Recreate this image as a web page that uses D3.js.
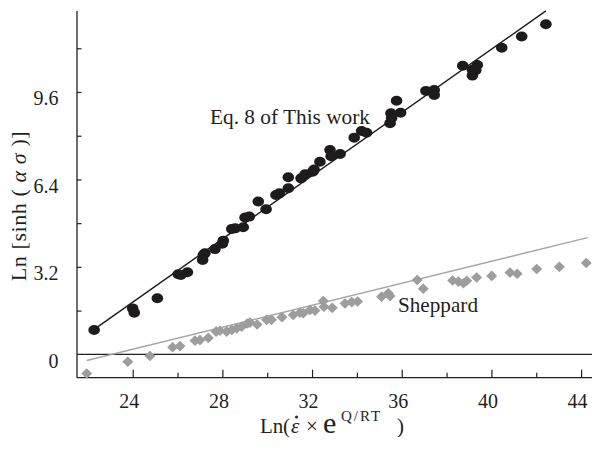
<!DOCTYPE html>
<html><head><meta charset="utf-8">
<script src="https://cdn.jsdelivr.net/npm/d3@7"></script>
<style>
html,body{margin:0;padding:0;background:#fff;}
svg{display:block;}
text{font-family:"Liberation Serif","Times New Roman",serif;fill:#231f20;}
</style></head>
<body>
<svg id="chart" width="592" height="449"></svg>
<script>
// ---- data ----
const thisWorkX = [22.28,24.00,24.07,25.10,26.03,26.15,26.44,27.12,27.15,27.22,27.67,28.00,28.04,28.42,28.57,28.93,29.01,29.20,29.60,29.95,30.39,30.54,30.94,30.94,31.51,31.69,32.03,32.09,32.35,32.80,32.85,33.25,33.88,34.21,34.43,35.48,35.52,35.55,35.95,35.77,37.08,37.45,37.45,38.72,39.15,39.15,39.37,39.30,40.46,41.35,42.43];
const thisWorkY = [0.89,1.68,1.52,2.05,2.93,2.90,3.00,3.45,3.63,3.70,3.85,4.05,4.16,4.59,4.61,4.65,5.01,5.04,5.59,5.31,5.83,5.89,6.08,6.48,6.44,6.59,6.68,6.76,7.05,7.48,7.25,7.33,7.93,8.17,8.11,8.46,8.82,8.65,8.84,9.28,9.64,9.67,9.49,10.56,10.41,10.20,10.59,10.40,11.22,11.63,12.08];
const sheppardX = [21.95,23.78,24.77,25.78,26.11,26.78,27.00,27.37,27.72,27.89,28.19,28.42,28.64,28.86,29.11,29.23,29.55,29.97,30.19,30.66,31.16,31.46,31.61,31.91,32.13,32.50,32.53,32.90,33.47,33.77,34.03,35.10,35.40,35.48,36.69,36.96,38.27,38.53,38.75,38.90,39.34,40.01,40.83,41.15,42.02,43.03,44.23];
const sheppardY = [-0.70,-0.27,-0.06,0.26,0.30,0.50,0.52,0.60,0.83,0.86,0.83,0.89,0.95,1.01,1.13,1.16,1.09,1.26,1.26,1.36,1.44,1.52,1.50,1.62,1.60,1.95,1.74,1.70,1.86,1.91,1.93,2.11,2.23,2.13,2.72,2.40,2.70,2.66,2.60,2.69,2.81,2.87,2.99,2.95,3.12,3.20,3.34];
const thisWorkLine = [[22.28,0.91],[42.43,12.57]];
const sheppardLine = [[21.95,-0.23],[44.29,4.27]];
const xMajorTicks = [24,28,32,36,40,44];
const xMinorTicks = [22,26,30,34,38,42];
const yMajorTicks = [3.2,6.4,9.6];
const yMinorTicks = [1.6,4.8,8.0,11.2];
const yZeroLabel = [0];
const labelThisWork = "Eq. 8 of This work";
const labelSheppard = "Sheppard";

// ---- scales ----
const x = d3.scaleLinear().domain([24,44]).range([132.7,581.1]);
const y = d3.scaleLinear().domain([0,9.6]).range([354.3,92]);
const xMin = x.invert(77), xMax = x.invert(592);
const yMin = y.invert(377.7), yMax = y.invert(11);

const svg = d3.select("#chart");
const ink = "#231f20";

// axes lines
svg.append("line").attr("x1",x(xMin)).attr("x2",x(xMin)).attr("y1",y(yMax)).attr("y2",y(yMin))
  .attr("stroke",ink).attr("stroke-width",1.3);
svg.append("line").attr("x1",x(xMin)).attr("x2",x(xMax)).attr("y1",y(yMin)).attr("y2",y(yMin))
  .attr("stroke",ink).attr("stroke-width",1.3);
// zero line
svg.append("line").attr("x1",x(xMin)).attr("x2",x(xMax)).attr("y1",y(0)).attr("y2",y(0))
  .attr("stroke",ink).attr("stroke-width",1.2);

// x axis ticks
const gx = svg.append("g").attr("transform",`translate(0,${y(yMin)})`)
  .call(d3.axisBottom(x).tickValues(xMajorTicks).tickSizeInner(-8).tickSizeOuter(0).tickPadding(0).tickFormat(d3.format("d")));
gx.select(".domain").remove();
gx.selectAll(".tick line").attr("stroke",ink).attr("stroke-width",1.2);
gx.selectAll(".tick text").attr("font-size",20).attr("dy",0).attr("y",30.5).attr("dx",-4)
  .style("font-family","'Liberation Serif',serif").attr("fill",ink);
const gxm = svg.append("g").attr("transform",`translate(0,${y(yMin)})`)
  .call(d3.axisBottom(x).tickValues(xMinorTicks).tickSizeInner(-5).tickSizeOuter(0).tickFormat(""));
gxm.select(".domain").remove();
gxm.selectAll(".tick line").attr("stroke",ink).attr("stroke-width",1.2);

// y axis ticks
const gy = svg.append("g").attr("transform",`translate(${x(xMin)},0)`)
  .call(d3.axisLeft(y).tickValues(yMajorTicks.concat(yMinorTicks)).tickSizeInner(-4.5).tickSizeOuter(0).tickPadding(0).tickFormat(d=>""));
gy.select(".domain").remove();
gy.selectAll(".tick line").attr("stroke",ink).attr("stroke-width",1.2);
const gyl = svg.append("g").attr("transform",`translate(${x(xMin)},0)`)
  .call(d3.axisLeft(y).tickValues(yMajorTicks.concat(yZeroLabel)).tickSize(0).tickPadding(18.5).tickFormat(d=>d===0?"0":d3.format(".1f")(d)));
gyl.select(".domain").remove();
gyl.selectAll(".tick text").attr("font-size",20).attr("dy","0.64em")
  .style("font-family","'Liberation Serif',serif").attr("fill",ink);

// fit lines
const lineGen = d3.line().x(d=>x(d[0])).y(d=>y(d[1]));
svg.append("path").attr("d",lineGen(sheppardLine)).attr("stroke","#a6a6a6").attr("stroke-width",1.5).attr("fill","none");
svg.append("path").attr("d",lineGen(thisWorkLine)).attr("stroke",ink).attr("stroke-width",1.5).attr("fill","none");

// Sheppard diamonds
const sh = d3.range(sheppardX.length).map(i=>({x:sheppardX[i],y:sheppardY[i]}));
svg.append("g").selectAll("path").data(sh).join("path")
  .attr("transform",d=>`translate(${x(d.x)},${y(d.y)})`)
  .attr("d","M0,-5.3L5.5,0L0,5.3L-5.5,0Z").attr("fill","#9d9d9d");

// This work dots
const tw = d3.range(thisWorkX.length).map(i=>({x:thisWorkX[i],y:thisWorkY[i]}));
svg.append("g").selectAll("ellipse").data(tw).join("ellipse")
  .attr("cx",d=>x(d.x)).attr("cy",d=>y(d.y)).attr("rx",5.8).attr("ry",5).attr("fill","#1e1b1c");

// annotations
svg.append("text").attr("x",210).attr("y",124).attr("font-size",21).attr("textLength",160).attr("lengthAdjust","spacingAndGlyphs").text(labelThisWork);
svg.append("text").attr("x",398).attr("y",311.5).attr("font-size",21).attr("textLength",80).attr("lengthAdjust","spacingAndGlyphs").text(labelSheppard);

// y axis title
const yt = svg.append("text").attr("transform","translate(26,206) rotate(-90)").attr("text-anchor","middle")
  .attr("font-size",22).attr("letter-spacing",0.6);
yt.append("tspan").text("Ln [sinh ( ");
yt.append("tspan").attr("font-style","italic").text("α σ");
yt.append("tspan").text(" )]");

// x axis title
const xt = svg.append("text").attr("y",433).attr("font-size",21);
xt.append("tspan").attr("x",260).text("Ln");
xt.append("tspan").attr("x",283).text("(");
const eps = xt.append("tspan").attr("x",291).attr("font-style","italic").text("ε");
xt.append("tspan").attr("x",306).text("×");
xt.append("tspan").attr("x",323).attr("font-size",30).text("e");
xt.append("tspan").attr("x",341).attr("dy",-12).attr("font-size",15).attr("letter-spacing",2).text("Q/RT");
xt.append("tspan").attr("x",397).attr("dy",12).text(")");
// dot over epsilon
const eb = eps.node().getBBox();
svg.append("circle").attr("cx",eb.x+eb.width/2+1).attr("cy",eb.y+3).attr("r",1.5).attr("fill",ink);
</script>
</body></html>
